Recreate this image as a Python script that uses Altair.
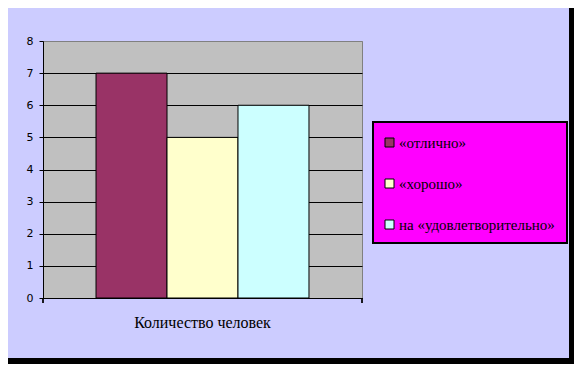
import altair as alt
import pandas as pd

category = "Количество человек"
series = ["«отлично»", "«хорошо»", "на «удовлетворительно»"]
values = [7, 5, 6]
colors = ["#993366", "#FFFFCC", "#CCFFFF"]
y_ticks = [0, 1, 2, 3, 4, 5, 6, 7, 8]

df = pd.DataFrame({"cat": [category] * len(series), "series": series, "value": values})

W, H = 319, 257

x_enc = alt.X(
    "cat:N",
    title=None,
    scale=alt.Scale(paddingOuter=0.249, paddingInner=0),
    axis=alt.Axis(
        domainColor="black", ticks=False, labelAngle=0, labelPadding=16,
        labelFont="Liberation Serif", labelFontSize=16, labelColor="black",
        labelFontWeight="normal",
    ),
)
y_enc = alt.Y(
    "value:Q",
    title=None,
    scale=alt.Scale(domain=[0, 8], nice=False),
    axis=alt.Axis(
        values=y_ticks, domainColor="black", tickColor="black", tickSize=4,
        labelPadding=6, labelFont="DejaVu Sans", labelFontSize=11, labelColor="black",
        grid=True,
        gridColor=alt.condition("datum.value == 8", alt.value("#808080"), alt.value("black")),
        gridOpacity=1,
    ),
)

bars = alt.Chart(df).mark_bar(stroke="black", strokeWidth=1).encode(
    x=x_enc,
    xOffset=alt.XOffset("series:N", scale=alt.Scale(domain=series, paddingInner=0, paddingOuter=0)),
    y=y_enc,
    color=alt.Color(
        "series:N",
        scale=alt.Scale(domain=series, range=colors),
        legend=alt.Legend(
            title=None, orient="none", legendX=339, legendY=94, padding=0,
            symbolType="square", symbolSize=81, symbolStrokeColor="black", symbolStrokeWidth=1,
            symbolOpacity=1, symbolOffset=0,
            labelFont="Liberation Serif", labelFontSize=15, labelColor="black", labelOffset=2,
            rowPadding=25, labelLimit=300,
        ),
    ),
)

base = alt.Chart(df)

legend_box = base.mark_rect(fill="#FF00FF", stroke="black", strokeWidth=2).encode(
    x=alt.value(330), x2=alt.value(524), y=alt.value(81), y2=alt.value(202)
)
right_band = base.mark_rect(fill="black").encode(
    x=alt.value(526), x2=alt.value(540), y=alt.value(-40), y2=alt.value(335)
)
bottom_band = base.mark_rect(fill="black").encode(
    x=alt.value(-40), x2=alt.value(540), y=alt.value(317), y2=alt.value(330)
)
tick_left = base.mark_rule(color="black").encode(
    x=alt.value(0), y=alt.value(H), y2=alt.value(H + 5)
)
tick_right = base.mark_rule(color="black").encode(
    x=alt.value(W), y=alt.value(H), y2=alt.value(H + 5)
)

chart = alt.layer(legend_box, right_band, bottom_band, bars, tick_left, tick_right).properties(
    width=W, height=H,
    autosize=alt.AutoSizeParams(type="none"),
    padding={"left": 35, "top": 33, "right": 212, "bottom": 66},
    background="#CCCCFF",
).configure_view(fill="#C0C0C0", stroke="#808080", strokeWidth=1)

chart.save("out.html", embed_options={"renderer": "svg", "actions": False})
